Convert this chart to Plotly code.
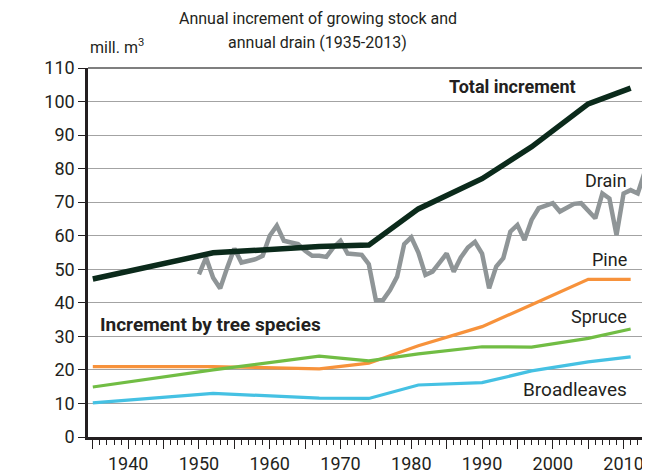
import plotly.graph_objects as go

# ---- data ----
inv_years = [1935, 1952, 1967, 1974, 1981, 1990, 1997, 2005, 2011]
total_increment = [47.1, 54.9, 56.8, 57.2, 68.0, 77.0, 86.5, 99.3, 104.0]
pine = [21.0, 21.0, 20.3, 22.0, 27.2, 32.9, 39.4, 47.0, 47.0]
spruce = [14.9, 20.0, 24.1, 22.7, 24.8, 26.9, 26.8, 29.4, 32.2]
broadleaves = [10.2, 13.0, 11.6, 11.5, 15.5, 16.2, 19.7, 22.4, 23.9]

drain_years = list(range(1950, 2014))
drain = [48.5, 53.5, 47.5, 44.3, 50.5, 56.2, 52.0, 52.5, 53.0, 54.0,
         60.0, 63.0, 58.5, 58.0, 57.5, 55.5, 54.0, 54.0, 53.7, 56.5,
         58.5, 54.7, 54.5, 54.3, 51.5, 40.8, 40.8, 43.8, 47.8, 57.5,
         59.5, 55.0, 48.3, 49.3, 52.0, 54.7, 49.3, 53.5, 56.5, 58.2,
         54.7, 44.3, 50.8, 53.3, 61.2, 63.2, 58.7, 64.7, 68.2, 69.0,
         69.7, 67.2, 68.5, 69.5, 69.7, 67.5, 65.2, 72.6, 71.1, 60.2,
         72.6, 73.6, 72.6, 79.1]

major_ticks = list(range(1935, 2011, 5))
major_labels = [str(y) if y % 10 == 0 else "" for y in major_ticks]
y_ticks = list(range(0, 111, 10))

FONT = "Roboto, sans-serif"
TXT = "#231f20"

fig = go.Figure()
fig.add_trace(go.Scatter(x=inv_years, y=broadleaves, mode="lines",
                         line=dict(color="#45c1e3", width=3.2)))
fig.add_trace(go.Scatter(x=inv_years, y=pine, mode="lines",
                         line=dict(color="#f7923b", width=3.2)))
fig.add_trace(go.Scatter(x=inv_years, y=spruce, mode="lines",
                         line=dict(color="#71bd44", width=3.2)))
fig.add_trace(go.Scatter(x=drain_years, y=drain, mode="lines",
                         line=dict(color="#8f9597", width=4.5)))
fig.add_trace(go.Scatter(x=inv_years, y=total_increment, mode="lines",
                         line=dict(color="#0b2a1b", width=5.5)))

ann = [
    dict(text="<b>Total increment</b>", x=2003.6, y=104.6, xanchor="right", size=18),
    dict(text="Drain", x=2010.7, y=76.6, xanchor="right", size=18),
    dict(text="Pine", x=2010.7, y=52.8, xanchor="right", size=18),
    dict(text="Spruce", x=2010.7, y=35.8, xanchor="right", size=18),
    dict(text="Broadleaves", x=2010.7, y=14.3, xanchor="right", size=19),
    dict(text="<b>Increment by tree species</b>", x=1935.7, y=33.4, xanchor="left", size=19),
]
for a in ann:
    sz = a.pop("size")
    fig.add_annotation(xref="x", yref="y", yanchor="middle", showarrow=False,
                       font=dict(family=FONT, size=sz, color=TXT), **a)

# title (two lines) and unit label
fig.add_annotation(xref="paper", yref="paper", x=0.41, y=1.0, xanchor="center", yanchor="bottom",
                   yshift=38, showarrow=False, text="Annual increment of growing stock and",
                   font=dict(family=FONT, size=16, color=TXT))
fig.add_annotation(xref="paper", yref="paper", x=0.41, y=1.0, xanchor="center", yanchor="bottom",
                   yshift=14, showarrow=False, text="annual drain (1935-2013)",
                   font=dict(family=FONT, size=16, color=TXT))
fig.add_annotation(xref="paper", yref="paper", x=0.0, y=1.0, xanchor="left", yanchor="bottom",
                   yshift=9, showarrow=False, text="mill. m<sup>3</sup>",
                   font=dict(family=FONT, size=16, color=TXT))

# the page body adds an 8px offset, so the figure is 8px smaller each way
fig.update_layout(
    width=642, height=466,
    margin=dict(l=80, r=2, t=60, b=37),
    paper_bgcolor="white", plot_bgcolor="white",
    showlegend=False,
    font=dict(family=FONT, size=18, color=TXT),
)
fig.update_xaxes(
    range=[1934.32, 2013.45], tickmode="array", tickvals=major_ticks, ticktext=major_labels,
    ticks="outside", ticklen=9, tickwidth=1.3, tickcolor=TXT,
    minor=dict(dtick=1, tick0=1935, ticks="outside", ticklen=5, tickwidth=1, tickcolor=TXT, showgrid=False),
    showgrid=False, zeroline=False, automargin=False,
    showline=True, linecolor=TXT, linewidth=2.5, mirror=False,
    tickfont=dict(family=FONT, size=18, color=TXT),
)
fig.update_yaxes(
    range=[0, 110], tickvals=y_ticks, ticks="outside", ticklen=7, tickwidth=1.3, tickcolor=TXT,
    showgrid=True, gridcolor="#a3a3a3", gridwidth=1.2, zeroline=False, automargin=False,
    showline=True, linecolor=TXT, linewidth=2.5, mirror=False,
    tickfont=dict(family=FONT, size=18, color=TXT),
)
# frame on top/right
fig.add_shape(type="line", xref="paper", yref="paper", x0=0, x1=1, y0=1, y1=1,
              line=dict(color="#555555", width=1.5), layer="above")
fig.add_shape(type="line", xref="paper", yref="paper", x0=1, x1=1, y0=0, y1=1,
              line=dict(color="#555555", width=1.5), layer="above")

fig.write_html("out.html")
